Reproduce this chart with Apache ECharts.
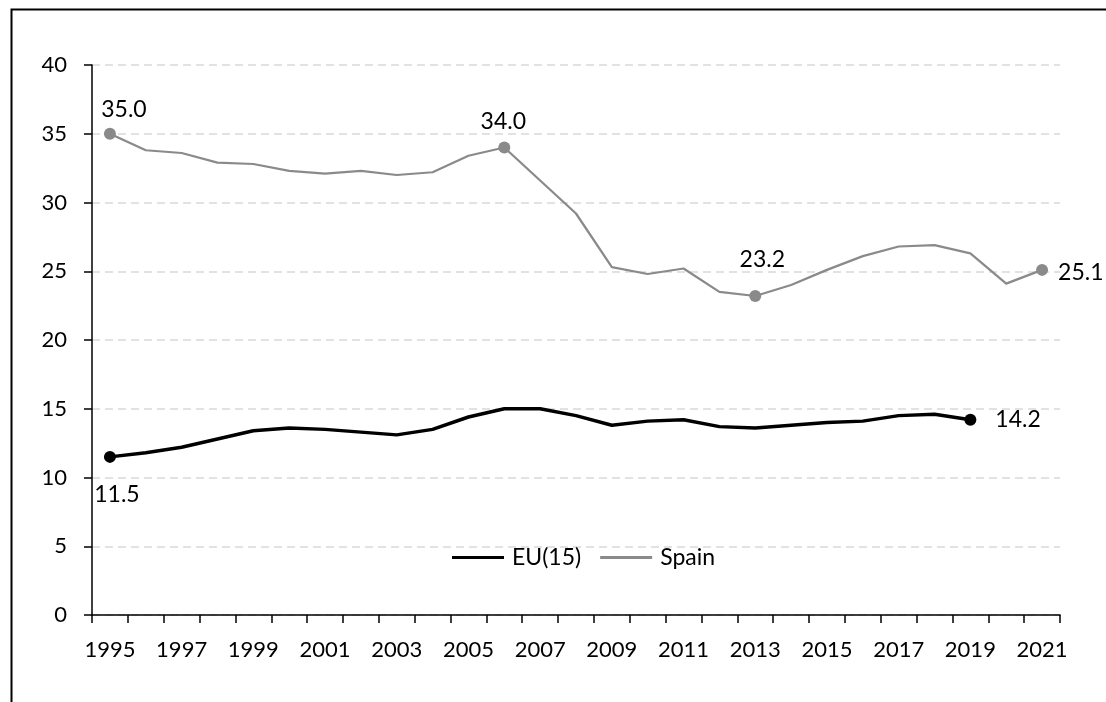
<!DOCTYPE html>
<html>
<head>
<meta charset="utf-8">
<script src="https://cdn.jsdelivr.net/npm/echarts@6/dist/echarts.min.js"></script>
<style>
  html, body { margin: 0; padding: 0; background: #fff; }
  #chart { width: 1106px; height: 702px; }
</style>
</head>
<body>
<div id="chart"></div>
<script>
const years = ['1995', '1996', '1997', '1998', '1999', '2000', '2001', '2002', '2003',
  '2004', '2005', '2006', '2007', '2008', '2009', '2010', '2011', '2012', '2013',
  '2014', '2015', '2016', '2017', '2018', '2019', '2020', '2021'];
const eu15 = [11.5, 11.8, 12.2, 12.8, 13.4, 13.6, 13.5, 13.3, 13.1, 13.5, 14.4, 15.0, 15.0,
  14.5, 13.8, 14.1, 14.2, 13.7, 13.6, 13.8, 14.0, 14.1, 14.5, 14.6, 14.2, null, null];
const spain = [35.0, 33.8, 33.6, 32.9, 32.8, 32.3, 32.1, 32.3, 32.0, 32.2, 33.4, 34.0, 31.6,
  29.2, 25.3, 24.8, 25.2, 23.5, 23.2, 24.0, 25.1, 26.1, 26.8, 26.9, 26.3, 24.1, 25.1];
const yTicks = [0, 5, 10, 15, 20, 25, 30, 35, 40];

// which points get a marker + value label
const euMarked = ['1995', '2019'];
const spainMarked = ['1995', '2006', '2013', '2021'];

const font = 'Lato, "Open Sans", sans-serif';

const labelStyle = {
  '1995-eu': { position: 'bottom', distance: 5, offset: [7, 15] },
  '2019-eu': { position: 'right', distance: 19, offset: [0, 0] },
  '1995-es': { position: 'top', distance: 5, offset: [14, -2] },
  '2006-es': { position: 'top', distance: 5, offset: [-1, -3] },
  '2013-es': { position: 'top', distance: 5, offset: [7, -14] },
  '2021-es': { position: 'right', distance: 10, offset: [0, 3] },
};

function buildData(values, marked, key) {
  return values.map((v, i) => {
    const yr = years[i];
    if (v == null || marked.indexOf(yr) < 0) return v;
    const ls = labelStyle[yr + '-' + key];
    return {
      value: v,
      symbolSize: 12,
      label: {
        show: true,
        formatter: (p) => p.value.toFixed(1),
        position: ls.position,
        distance: ls.distance,
        offset: ls.offset,
        fontFamily: font,
        fontSize: 23,
        color: '#000',
      },
    };
  });
}

const chart = echarts.init(document.getElementById('chart'));
chart.setOption({
  animation: false,
  backgroundColor: '#fff',
  textStyle: { fontFamily: font },
  graphic: [
    {
      type: 'rect',
      left: 9,
      top: 7,
      shape: { width: 1300, height: 900 },
      style: { fill: 'none', stroke: '#000', lineWidth: 2 },
      silent: true,
    },
  ],
  grid: { left: 92, right: 46, top: 65, bottom: 87 },
  legend: {
    left: 447,
    top: 541,
    itemWidth: 52,
    itemHeight: 3,
    itemGap: 19,
    textStyle: { fontFamily: font, fontSize: 23, color: '#000', padding: [0, 0, 0, 3] },
    data: [
      { name: 'EU(15)', icon: 'rect', itemStyle: { color: '#000' } },
      { name: 'Spain', icon: 'rect', itemStyle: { color: '#8a8a8a' } },
    ],
  },
  xAxis: {
    type: 'category',
    data: years,
    boundaryGap: true,
    axisLine: { show: true, lineStyle: { color: '#000', width: 1.5 } },
    axisTick: { show: true, interval: 0, length: 8, lineStyle: { color: '#000', width: 1.5 } },
    axisLabel: { interval: 1, margin: 24, fontFamily: font, fontSize: 22, color: '#000' },
    splitLine: { show: false },
  },
  yAxis: {
    type: 'value',
    min: yTicks[0],
    max: yTicks[yTicks.length - 1],
    interval: 5,
    axisLine: { show: true, lineStyle: { color: '#000', width: 1.5 } },
    axisTick: { show: true, length: 8, lineStyle: { color: '#000', width: 1.5 } },
    axisLabel: { margin: 25, fontFamily: font, fontSize: 22, color: '#000' },
    splitLine: { show: true, lineStyle: { color: '#d9d9d9', width: 1.5, type: [8, 5] } },
  },
  series: [
    {
      name: 'EU(15)',
      type: 'line',
      data: buildData(eu15, euMarked, 'eu'),
      symbol: 'circle',
      symbolSize: 0,
      showSymbol: true,
      lineStyle: { color: '#000', width: 3.5 },
      itemStyle: { color: '#000' },
      z: 3,
    },
    {
      name: 'Spain',
      type: 'line',
      data: buildData(spain, spainMarked, 'es'),
      symbol: 'circle',
      symbolSize: 0,
      showSymbol: true,
      lineStyle: { color: '#8a8a8a', width: 2.25 },
      itemStyle: { color: '#8a8a8a' },
      z: 2,
    },
  ],
});
</script>
</body>
</html>
